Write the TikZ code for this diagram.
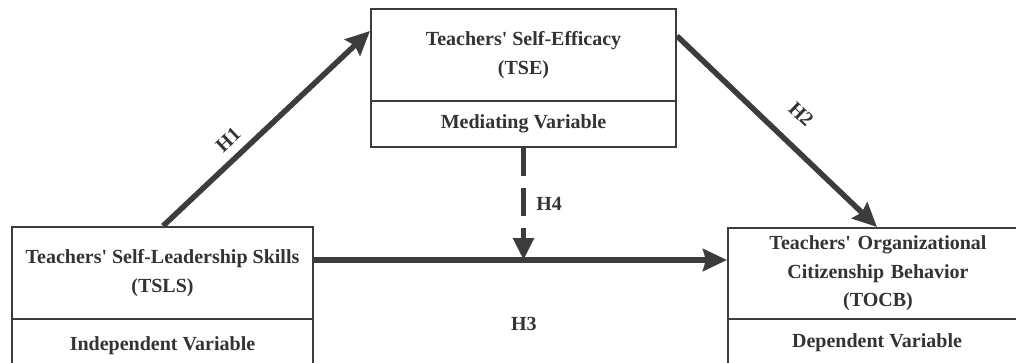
\documentclass[tikz,border=0pt]{standalone}
\usepackage{fontspec}
\setmainfont{Liberation Serif}[Ligatures=TeXOff]
\usetikzlibrary{arrows.meta}
\definecolor{ink}{HTML}{333333}
\definecolor{edge}{HTML}{3C3C3C}
\tikzset{
  box/.style={draw=edge, line width=2pt, fill=white, anchor=north west, inner sep=0pt,
    align=center, text=ink, font=\bfseries\fontsize{20}{28.5}\selectfont},
  link/.style={draw=edge, line width=5.5pt,
    -{Stealth[length=24pt,width=22pt,inset=3pt]}},
  hlabel/.style={text=ink, inner sep=0pt, font=\bfseries\fontsize{20}{24}\selectfont}
}
\begin{document}
\begin{tikzpicture}[x=1pt,y=-1pt]
\useasboundingbox (0,0) rectangle (1016,362);
\clip (0,0) rectangle (1016,362);
% boxes
\node[box, minimum width=305pt, minimum height=92pt] (tse) at (370,8) {Teachers' Self-Efficacy\\(TSE)};
\node[box, minimum width=305pt, minimum height=46pt] (tsemv) at (370,100) {Mediating Variable};
\node[box, minimum width=301pt, minimum height=92pt] (tsls) at (11,226) {Teachers' Self-Leadership Skills\\(TSLS)};
\node[box, minimum width=301pt, minimum height=54pt] (tslsiv) at (11,318) {Independent Variable};
\node[box, minimum width=300pt, minimum height=91pt, text width=290pt] (tocb) at (727,227) {Teachers' Organizational\\Citizenship Behavior\\(TOCB)};
\node[box, minimum width=300pt, minimum height=54pt] (tocbdv) at (727,318) {};
\node[text=ink, font=\bfseries\fontsize{20}{28}\selectfont, inner sep=0pt] (dvtext) at (877,343) {Dependent Variable};
% connectors
\coordinate (h1s) at ([xshift=152pt]tsls.north west);
\coordinate (h1e) at ([yshift=24pt]tse.west);
\draw[link] (h1s) -- node[hlabel, pos=0.375, above=9pt, sloped] (lh1) {H1} (h1e);
\coordinate (h2s) at ([yshift=19pt]tse.east);
\coordinate (h2e) at ([xshift=150pt]tocb.north west);
\draw[link] (h2s) -- node[hlabel, pos=0.52, above=20pt, sloped] (lh2) {H2} (h2e);
\coordinate (h3s) at ([yshift=13pt]tsls.east);
\coordinate (h3e) at (tocb.west |- h3s);
\draw[link] (h3s) -- node[hlabel, pos=0.508, below=55pt] (lh3) {H3} (h3e);
\coordinate (h4e) at (tsemv.south |- h3s);
\draw[draw=edge, line width=5.5pt, dash pattern=on 28pt off 12pt,
  -{Triangle[length=22pt,width=20pt]}] (tsemv.south) -- node[hlabel, pos=0.5, right=10pt] (lh4) {H4} (h4e);
\end{tikzpicture}
\end{document}
